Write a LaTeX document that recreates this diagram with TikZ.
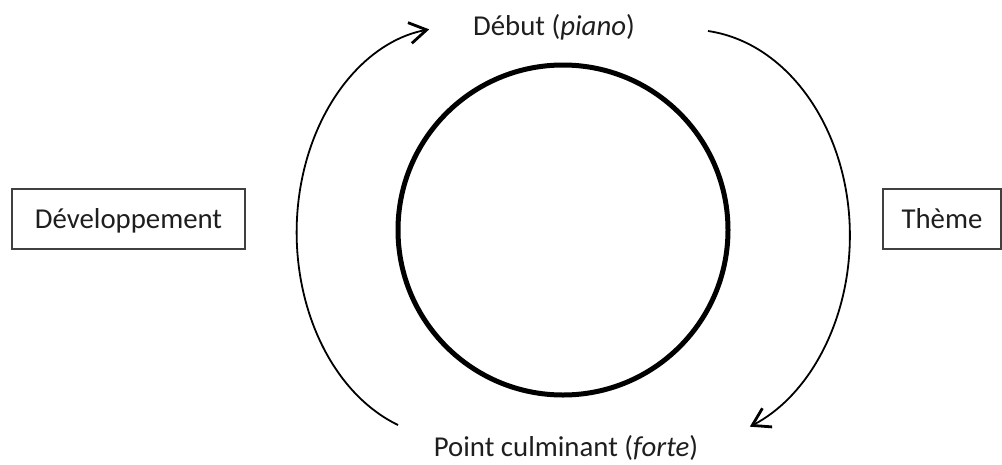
\documentclass[tikz,border=0pt]{standalone}
\usepackage{fontspec}
\setmainfont{Carlito}
\usetikzlibrary{arrows.meta}
\definecolor{ink}{HTML}{1E1E1E}
\definecolor{frame}{HTML}{404040}
\tikzset{
  label text/.style={text=ink, font=\fontsize{28.8}{34}\selectfont, inner sep=0pt},
  boxed/.style={label text, draw=frame, line width=1.5pt, minimum height=60pt,
                text height=18.5pt, text depth=0pt, inner sep=0pt},
  ring/.style={draw=black, line width=5pt},
  flow/.style={draw=black, line width=1.8pt,
               -{Straight Barb[length=17pt,width=21pt,line width=2.8pt]}},
}
\begin{document}
\begin{tikzpicture}[x=1pt, y=-1pt]
  \useasboundingbox (0,0) rectangle (1002,464);

  % the cycle itself
  \draw[ring] (563,230) circle[radius=165];

  % stage labels
  \node[label text, anchor=base] (debut) at (554,35) {Début (\textit{piano})};
  \node[label text, anchor=base] (culmen) at (566,456) {Point culminant (\textit{forte})};
  \node[boxed, minimum width=233pt] (devel) at (128.5,219) {Développement};
  \node[boxed, minimum width=118pt] (theme) at (942,219) {Thème};

  % ends of the two curved arrows
  \coordinate (leftfoot) at (398,425);
  \coordinate (righthead) at (708,31);

  % left: from the climax back up to the opening
  \draw[flow] (leftfoot) arc[start angle=110, end angle=262, x radius=154, y radius=205];
  % right: from the opening down to the climax
  \draw[flow] (righthead) arc[start angle=-83.5, end angle=68, x radius=160, y radius=206];
\end{tikzpicture}
\end{document}
